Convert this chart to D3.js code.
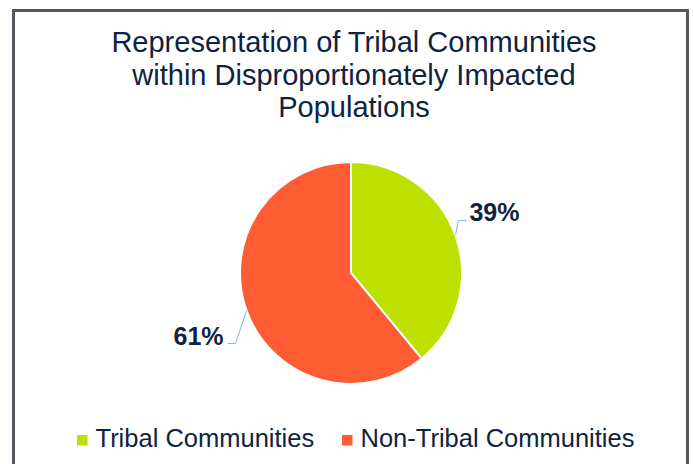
<!DOCTYPE html>
<html>
<head>
<meta charset="utf-8">
<script src="https://cdn.jsdelivr.net/npm/d3@7"></script>
<style>
  body { margin: 0; background: #fff; }
  text { font-family: "Liberation Sans", Arial, sans-serif; }
</style>
</head>
<body>
<svg id="chart"></svg>
<script>
const categories = ["Tribal Communities", "Non-Tribal Communities"];
const values = [39, 61];
const colours = ["#bee000", "#ff5c33"];
const titleLines = ["Representation of Tribal Communities", "within Disproportionately Impacted", "Populations"];

const width = 693, height = 464;
const cx = 351, cy = 273, radius = 111;
const navy = "#0e233f";

const svg = d3.select("#chart")
    .attr("width", width)
    .attr("height", height);

// frame
svg.append("rect")
    .attr("x", 13.5).attr("y", 10.5)
    .attr("width", 674).attr("height", 470)
    .attr("fill", "none")
    .attr("stroke", "#57555f")
    .attr("stroke-width", 3);

// title
svg.append("g")
    .selectAll("text")
    .data(titleLines)
    .join("text")
    .attr("x", 354)
    .attr("y", (d, i) => 52 + i * 32.5)
    .attr("text-anchor", "middle")
    .attr("font-size", 29)
    .attr("fill", navy)
    .text(d => d);

const pie = d3.pie().sort(null).value(d => d);
const arcs = pie(values);
const arc = d3.arc().innerRadius(0).outerRadius(radius);

const g = svg.append("g").attr("transform", `translate(${cx},${cy})`);

g.selectAll("path.slice")
    .data(arcs)
    .join("path")
    .attr("class", "slice")
    .attr("d", arc)
    .attr("fill", (d, i) => colours[i])
    .attr("stroke", "#fff")
    .attr("stroke-width", 2);

// leader lines + labels
const leaders = [
    {dy: -15, dx: 3, run: 8},
    {dy: 33, dx: -11, run: -8}
];

arcs.forEach((a, i) => {
    const mid = (a.startAngle + a.endAngle) / 2;
    const ex = radius * Math.sin(mid), ey = -radius * Math.cos(mid);
    const L = leaders[i];
    const bx = ex + L.dx, by = ey + L.dy;
    const tx = bx + L.run;
    g.append("polyline")
        .attr("points", [[ex, ey], [bx, by], [tx, by]].map(p => p.join(",")).join(" "))
        .attr("fill", "none")
        .attr("stroke", "#75b8ee")
        .attr("stroke-width", 1);
    g.append("text")
        .attr("x", tx + (L.run > 0 ? 3 : -4))
        .attr("y", by + 1)
        .attr("text-anchor", L.run > 0 ? "start" : "end")
        .attr("font-size", 25)
        .attr("font-weight", "bold")
        .attr("fill", navy)
        .text(values[i] + "%");
});

// legend
const legendX = [77, 342];
const legend = svg.append("g")
    .selectAll("g")
    .data(categories)
    .join("g")
    .attr("transform", (d, i) => `translate(${legendX[i]},447)`);

legend.append("rect")
    .attr("x", 0).attr("y", -12)
    .attr("width", 10.5).attr("height", 10.5)
    .attr("fill", (d, i) => colours[i]);

legend.append("text")
    .attr("x", 18.5)
    .attr("y", 0)
    .attr("font-size", 25.5)
    .attr("fill", navy)
    .text(d => d);
</script>
</body>
</html>
